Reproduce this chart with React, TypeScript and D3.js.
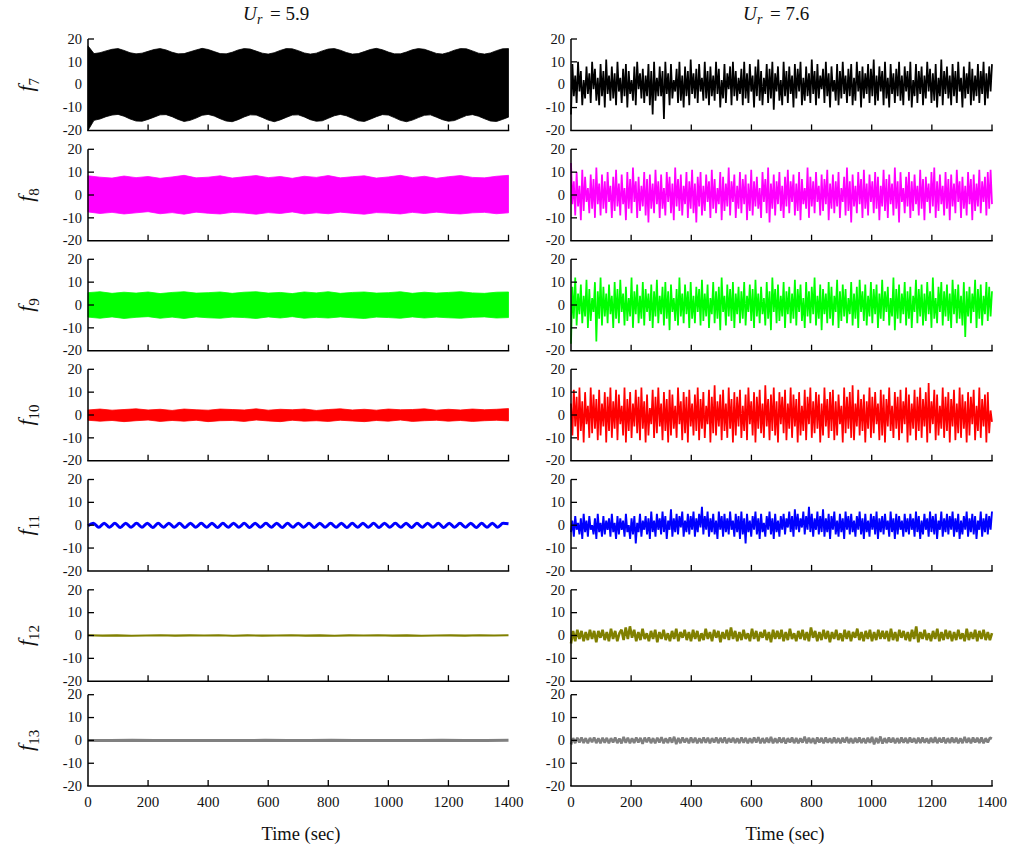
import React from 'react';
import * as d3 from 'd3';

// ---------- data ----------
const timeTicks = [0, 200, 400, 600, 800, 1000, 1200, 1400];
const yTicks = [-20, -10, 0, 10, 20];
const yTickLabels = ['-20', '-10', '0', '10', '20'];
const columnTitles = ['5.9', '7.6'];
const forceIndices = ['7', '8', '9', '10', '11', '12', '13'];
const seriesColors = ['#000000', '#ff00ff', '#00ff00', '#ff0000', '#0000ff', '#808000', '#808080'];

// Ur = 5.9 : envelopes of the dense oscillation
const left7Upper = [17, 13.6, 14, 14.8, 15.5, 15.8, 15, 14, 13.5, 13.8, 14.6, 15.4, 15.8, 15.2, 14.2, 13.5, 13.6, 14.4, 15.2, 15.9, 15.4, 14.5, 13.6, 13.5, 14.2, 15.2, 15.8, 15.6, 14.7, 13.8, 13.4, 14, 15, 15.8, 15.7, 14.9, 13.9, 13.4, 13.8, 14.8, 15.6, 15.8, 15.1, 14.1, 13.4, 13.6, 14.5, 15.4, 15.9, 15.3, 14.3, 13.5, 13.5, 14.3, 15.3, 15.8, 15.5, 14.6, 13.7, 13.4, 14.1, 15.1, 15.8, 15.7, 14.8, 13.8, 13.4, 13.9, 14.9, 15.7, 15.8];
const left7Lower = [-20, -15.6, -15, -14, -13.3, -13, -13.8, -15, -15.9, -16, -15.2, -14.2, -13.2, -13.1, -14, -15.2, -16.1, -15.6, -14.6, -13.4, -13, -13.7, -14.9, -15.9, -16.2, -15.3, -14.1, -13.2, -13.3, -14.3, -15.5, -16.2, -15.4, -14.3, -13.3, -13.2, -14.1, -15.3, -16, -15.8, -14.7, -13.6, -13, -13.6, -14.7, -15.8, -16.1, -15.1, -14, -13.1, -13.3, -14.4, -15.6, -16.2, -15.5, -14.4, -13.4, -13.2, -14.2, -15.3, -16, -15.7, -14.6, -13.5, -13.1, -13.8, -14.9, -15.9, -16.1, -15.2, -14.2];
const left8Upper = [8.4, 7.8, 7.4, 8.3, 7.6, 8.1, 7.3, 7.9, 8.6, 7.5, 7.8, 8.4, 7.4, 8, 8.5, 7.6, 8.1, 7.3, 8.2, 7.7, 8.5, 7.5, 8, 8.4, 7.4, 7.9, 8.6, 7.6, 8.2, 7.3, 8, 8.5, 7.7, 7.5, 8.2, 8.6];
const left8Lower = [-7.4, -8.1, -7.6, -8.3, -7.8, -7.3, -8.2, -7.7, -8.4, -7.5, -8, -8.3, -7.6, -7.9, -8.4, -7.7, -8.1, -7.4, -8.3, -7.8, -8.2, -7.5, -8, -8.4, -7.7, -7.9, -8.3, -7.6, -8.1, -7.5, -8, -8.3, -7.8, -7.6, -8.2, -7.8];
const left9Upper = [5.4, 5.8, 5.1, 5.6, 5.2, 5.7, 5, 5.5, 5.8, 5.2, 5.4, 5.7, 5.1, 5.6, 5.8, 5.2, 5.5, 5, 5.7, 5.3, 5.8, 5.1, 5.5, 5.7, 5.2, 5.4, 5.8, 5.1, 5.6, 5.2, 5.5, 5.8, 5.3, 5.1, 5.6, 5.7];
const left9Lower = [-5.3, -5.8, -5.2, -5.9, -5.4, -5.1, -5.8, -5.3, -5.9, -5.2, -5.6, -5.8, -5.3, -5.5, -5.9, -5.2, -5.7, -5.1, -5.8, -5.4, -5.7, -5.2, -5.6, -5.9, -5.3, -5.5, -5.8, -5.2, -5.7, -5.3, -5.6, -5.8, -5.4, -5.2, -5.7, -5.5];
const left10Upper = [2.2, 2.6, 2.1, 2.4, 2.7, 2.2, 2.5, 2, 2.6, 2.3, 2.1, 2.6, 2.4, 2.2, 2.7, 2.1, 2.5, 2.3, 2.6, 2, 2.4, 2.7, 2.2, 2.5, 2.1, 2.6, 2.3, 2.4, 2.7, 2.1, 2.5, 2.2, 2.6, 2.3, 2.5, 2.8];
const left10Lower = [-2.3, -2.7, -2.4, -2.9, -2.5, -2.2, -2.8, -2.4, -2.7, -2.3, -2.9, -2.5, -2.4, -2.8, -2.2, -2.6, -2.9, -2.3, -2.7, -2.5, -2.8, -2.3, -2.6, -2.9, -2.4, -2.7, -2.2, -2.8, -2.5, -2.3, -2.7, -2.4, -2.8, -2.5, -2.3, -2.6];
const left11Values = [-0.2, 0.9, -0.9, 0.9, -0.9, 0.8, -1, 0.9, -0.9, 0.8, -0.9, 0.9, -1, 0.8, -0.9, 0.9, -0.9, 0.8, -1, 0.9, -0.9, 0.8, -0.9, 0.9, -1, 0.8, -0.9, 0.9, -0.9, 0.8, -1, 0.9, -0.9, 0.8, -0.9, 0.9, -1, 0.8, -0.9, 0.9, -0.9, 0.8, -1, 0.9, -0.9, 0.8, -0.9, 0.9, -1, 0.8, -0.9, 0.9, -0.9, 0.8, -1, 0.9, -0.9, 0.8, -0.9, 0.9, -1, 0.8, -0.9, 0.9, -0.9, 0.8, -1, 0.9, -0.9, 0.8, -0.9, 0.9, -1, 0.8, -0.9, 0.9, -0.9, 0.8, 0.6];
const left12Values = [0.1, -0.05, 0.05, -0.1, 0, 0.1, -0.05, 0.05, 0, 0.1, -0.1, 0.05, -0.05, 0, 0.1, -0.05, 0.05, -0.1, 0.05, 0, 0.1, -0.05, 0.05, -0.1, 0, 0.05, -0.05, 0.1, 0, 0.1];
const left13Values = [0, 0, 0.05, 0, -0.05, 0, 0, -0.05, 0.05, 0, 0, 0.05, -0.05, 0, 0, -0.05, 0.05, 0, 0, 0.05];

// Ur = 7.6 : broadband responses, successive local maxima and minima
const right7Peaks = [9, 4, 10, 6, 2, 8, 5, 10, 7, 3, 9, 6, 11, 4, 8,
  5, 10, 3, 7, 9, 6, 2, 8, 10, 5, 7, 4, 9, 6, 10,
  3, 8, 6, 10, 5, 9, 2, 7, 10, 4, 8, 6, 11, 5, 7,
  9, 3, 10, 6, 8, 4, 10, 7, 2, 9, 5, 8, 10, 6, 3,
  7, 10, 5, 9, 4, 8, 11, 6, 3, 9, 7, 10, 5, 8, 2,
  10, 6, 8, 4, 9, 7, 10, 3, 8, 5, 11, 6, 9, 4, 7,
  10, 5, 8, 2, 9, 6, 10, 4, 7, 9, 3, 10, 6, 8, 5,
  9, 7, 11, 4, 8, 6, 10, 3, 9, 5, 7, 10, 4, 8, 6,
  10, 2, 9, 6, 8, 4, 10, 7, 5, 9, 3, 11, 6, 8, 4,
  9, 6, 10, 3, 8, 5, 10, 7, 4, 9, 6, 10, 5, 8, 9];
const right7Troughs = [-13, -5, -8, -3, -9, -6, -4, -8, -2, -7, -9, -5, -10, -4, -7,
  -6, -9, -3, -8, -5, -10, -4, -7, -9, -2, -6, -8, -5, -9, -13,
  -7, -5, -5, -15, -4, -9, -6, -3, -8, -7, -10, -5, -9, -4, -6,
  -8, -3, -7, -6, -9, -5, -7, -4, -10, -6, -8, -2, -9, -5, -7,
  -4, -9, -6, -8, -3, -10, -5, -7, -9, -4, -8, -6, -11, -3, -7,
  -9, -5, -8, -4, -10, -6, -3, -9, -7, -5, -8, -4, -9, -6, -2,
  -8, -5, -10, -3, -7, -9, -6, -4, -8, -5, -9, -7, -3, -10, -6,
  -4, -8, -5, -9, -7, -3, -9, -6, -10, -4, -8, -5, -7, -9, -3,
  -7, -10, -5, -8, -4, -9, -6, -3, -8, -7, -10, -5, -9, -4, -6,
  -9, -5, -8, -3, -10, -6, -4, -9, -7, -5, -8, -4, -9, -6, -3];
const right8Peaks = [14, 6, 10, 4, 11, 8, 3, 9, 7, 12, 5, 9, 6, 10, 4,
  8, 11, 5, 9, 3, 10, 7, 12, 6, 8, 4, 10, 7, 9, 5,
  11, 6, 9, 3, 10, 8, 5, 12, 7, 9, 4, 10, 6, 11, 5,
  8, 10, 4, 9, 6, 11, 7, 3, 10, 8, 5, 12, 6, 9, 4,
  10, 7, 9, 5, 11, 6, 8, 3, 10, 7, 12, 5, 9, 6, 10,
  4, 8, 11, 6, 9, 5, 10, 7, 3, 12, 8, 6, 10, 4, 9,
  7, 11, 5, 9, 6, 10, 3, 8, 12, 6, 9, 4, 10, 7, 11,
  5, 9, 6, 10, 8, 4, 11, 7, 9, 5, 12, 6, 10, 3, 8,
  10, 6, 9, 4, 11, 7, 8, 5, 10, 12, 6, 9, 4, 10, 7,
  9, 5, 11, 6, 8, 4, 10, 7, 9, 5, 11, 6, 8, 10, 11];
const right8Troughs = [-4, -9, -5, -11, -7, -3, -8, -6, -10, -4, -9, -6, -8, -3, -10,
  -7, -5, -9, -4, -11, -6, -8, -3, -10, -7, -5, -9, -12, -6, -8,
  -4, -10, -6, -9, -3, -8, -11, -5, -7, -9, -4, -10, -6, -8, -12,
  -5, -9, -7, -3, -10, -6, -8, -4, -11, -7, -5, -9, -3, -10, -6,
  -8, -4, -11, -7, -9, -5, -6, -10, -3, -8, -12, -6, -9, -4, -7,
  -10, -5, -8, -3, -9, -7, -11, -4, -6, -10, -5, -8, -3, -9, -7,
  -4, -11, -6, -8, -5, -10, -3, -9, -7, -12, -5, -8, -4, -10, -6,
  -9, -3, -8, -6, -11, -5, -7, -10, -4, -9, -6, -12, -3, -8, -5,
  -10, -7, -4, -9, -6, -11, -3, -8, -5, -10, -7, -4, -9, -6, -11,
  -5, -8, -3, -10, -6, -9, -4, -11, -7, -5, -8, -3, -9, -6, -4];
const right9Peaks = [8, 12, 5, 9, 4, 11, 7, 3, 10, 6, 12, 8, 5, 9, 4,
  10, 7, 11, 5, 8, 3, 12, 6, 9, 4, 10, 7, 5, 9, 6,
  11, 4, 8, 10, 6, 9, 3, 7, 12, 5, 9, 6, 10, 4, 8,
  7, 11, 5, 9, 3, 10, 6, 8, 12, 4, 9, 7, 10, 5, 8,
  6, 10, 4, 9, 7, 11, 5, 8, 3, 10, 6, 12, 7, 9, 4,
  10, 6, 8, 5, 11, 7, 9, 3, 10, 6, 8, 12, 4, 9, 7,
  5, 10, 8, 4, 11, 6, 9, 7, 3, 10, 5, 8, 11, 6, 9,
  4, 10, 7, 9, 5, 11, 6, 8, 3, 12, 7, 9, 5, 10, 6,
  8, 4, 11, 7, 9, 5, 10, 6, 12, 3, 8, 10, 6, 9, 5,
  11, 7, 9, 4, 10, 6, 8, 5, 11, 7, 9, 4, 10, 8, 6];
const right9Troughs = [-17, -6, -9, -4, -8, -5, -10, -7, -3, -16, -6, -9, -5, -8, -4,
  -10, -6, -8, -3, -9, -7, -5, -10, -4, -8, -6, -9, -3, -7, -10,
  -5, -8, -4, -9, -6, -11, -3, -7, -9, -5, -8, -4, -10, -6, -8,
  -3, -9, -7, -5, -10, -4, -8, -6, -11, -3, -9, -5, -7, -10, -4,
  -8, -6, -9, -3, -7, -10, -5, -8, -4, -9, -6, -11, -3, -8, -7,
  -5, -10, -4, -8, -6, -9, -3, -7, -10, -5, -8, -4, -9, -6, -11,
  -4, -8, -6, -9, -3, -10, -7, -5, -8, -4, -9, -6, -10, -3, -7,
  -9, -5, -8, -4, -10, -6, -7, -3, -9, -5, -11, -6, -8, -4, -9,
  -6, -10, -3, -8, -5, -9, -7, -4, -10, -6, -8, -3, -9, -5, -7,
  -10, -4, -8, -6, -9, -14, -5, -8, -3, -10, -6, -9, -4, -7, -5];
const right10Peaks = [5, 11, 8, 12, 6, 10, 4, 12, 9, 7, 11, 5, 10, 8, 12,
  6, 11, 9, 4, 12, 7, 10, 5, 11, 8, 12, 6, 9, 3, 11,
  8, 12, 5, 10, 7, 11, 9, 4, 12, 6, 10, 8, 11, 5, 9,
  12, 7, 10, 4, 11, 8, 13, 6, 9, 11, 5, 12, 7, 10, 8,
  11, 4, 9, 12, 6, 10, 8, 11, 5, 13, 7, 9, 12, 6, 10,
  8, 11, 5, 12, 9, 7, 10, 4, 11, 8, 12, 6, 10, 9, 5,
  12, 7, 10, 11, 6, 9, 4, 12, 8, 10, 13, 5, 11, 7, 9,
  6, 12, 8, 10, 5, 11, 9, 7, 12, 4, 10, 8, 11, 6, 12,
  9, 5, 11, 8, 12, 7, 10, 14, 6, 11, 9, 4, 12, 8, 10,
  7, 11, 5, 12, 9, 6, 10, 8, 11, 4, 12, 7, 9, 10, 2];
const right10Troughs = [-9, -5, -11, -7, -12, -4, -10, -8, -6, -11, -9, -5, -12, -7, -10,
  -6, -11, -4, -9, -12, -7, -10, -5, -8, -11, -6, -12, -9, -4, -10,
  -8, -5, -11, -7, -12, -9, -6, -10, -4, -11, -8, -12, -5, -9, -7,
  -11, -6, -10, -4, -12, -8, -9, -5, -11, -7, -10, -6, -12, -9, -5,
  -10, -7, -11, -4, -9, -12, -6, -8, -10, -5, -11, -7, -9, -12, -4,
  -8, -11, -6, -10, -5, -12, -9, -7, -11, -4, -10, -8, -6, -12, -9,
  -5, -10, -7, -11, -9, -4, -12, -8, -6, -10, -11, -5, -9, -7, -12,
  -6, -10, -8, -4, -11, -9, -12, -5, -7, -10, -6, -11, -8, -4, -12,
  -9, -6, -11, -7, -10, -5, -12, -8, -4, -11, -9, -6, -10, -7, -12,
  -5, -11, -8, -10, -6, -12, -9, -4, -11, -7, -10, -5, -12, -8, -3];
const right11Peaks = [2, 4, 1, 3, 5, 2, 4, 0, 3, 5, 1, 4, 2, 3, 5,
  1, 4, 3, 2, 5, 0, 3, 4, 1, 5, 2, 4, 3, 6, 2,
  5, 3, 6, 4, 2, 7, 3, 5, 4, 6, 2, 5, 4, 6, 3,
  5, 8, 4, 6, 3, 5, 2, 6, 4, 5, 3, 6, 2, 5, 4,
  6, 3, 5, 2, 4, 6, 3, 5, 1, 4, 6, 3, 5, 2, 4,
  5, 3, 6, 4, 7, 5, 3, 6, 4, 8, 5, 3, 6, 4, 7,
  3, 5, 4, 6, 2, 5, 3, 6, 4, 5, 2, 4, 6, 3, 5,
  2, 5, 4, 6, 3, 4, 5, 2, 6, 3, 5, 4, 2, 5, 3,
  5, 3, 6, 4, 2, 5, 3, 6, 4, 5, 2, 6, 3, 5, 4,
  6, 3, 5, 2, 4, 6, 3, 5, 4, 2, 6, 3, 5, 4, 6];
const right11Troughs = [-3, -5, -2, -4, -6, -3, -5, -2, -4, -6, -3, -5, -4, -2, -5,
  -3, -6, -4, -2, -5, -3, -6, -4, -8, -3, -5, -2, -4, -6, -3,
  -5, -2, -4, -3, -6, -2, -5, -3, -4, -1, -5, -3, -4, -2, -5,
  -3, -1, -4, -2, -5, -3, -4, -6, -2, -5, -3, -4, -2, -5, -3,
  -6, -4, -8, -3, -5, -2, -4, -6, -3, -5, -2, -4, -6, -3, -5,
  -2, -4, -1, -3, -5, -2, -3, -1, -4, -2, -3, -5, -2, -4, -3,
  -5, -3, -6, -2, -4, -5, -3, -6, -2, -4, -3, -5, -2, -4, -6,
  -3, -5, -2, -4, -6, -3, -4, -2, -5, -3, -6, -4, -2, -5, -3,
  -4, -2, -5, -3, -6, -4, -2, -5, -3, -4, -6, -2, -5, -3, -4,
  -2, -5, -3, -6, -4, -2, -5, -3, -4, -6, -2, -5, -3, -4, -2];
const right12Values = [-3.5, 2, -2.5, 2.5, -1.5, 2, -2.5, 1.5, -2, 2.5, -1.5, 2, -3, 2, -1, 2.5, -2, 1.5, -2.5, 3,
  -1.5, 2, -2.5, 1, 2.5, -2, 3.5, -1.5, 4, -1, 2.5, -2.5, 1.5, -2, 3, -1.5, 1, -2.5, 2, -1.5,
  2.5, -3, 1.5, -1.5, 2.5, -2, 1, -2.5, 2, -1.5, 3, -2.5, 1.5, -1, 2.5, -2, 1.5, -2.5, 2.5, -1.5,
  2, -2.5, 1, -2, 3, -1.5, 1.5, -2.5, 2.5, -1, 2, -3, 1.5, -1.5, 2.5, -2, 3.5, -1.5, 2, -2.5,
  1.5, -2, 2.5, -1.5, 1, -2.5, 3, -1.5, 2, -2.5, 1.5, -1, 2.5, -2, 1.5, -3, 2.5, -1.5, 2, -1.5,
  2.5, -2.5, 1.5, -2, 3, -1.5, 1, -2.5, 2, -1.5, 2.5, -2, 1.5, -2.5, 3.5, -1, 2, -2.5, 1.5, -2,
  2.5, -1.5, 2, -3, 1.5, -1.5, 2.5, -2, 1, -2.5, 2.5, -1.5, 2, -2.5, 1.5, -1, 3, -2, 1.5, -2.5,
  2, -1.5, 2.5, -2.5, 1.5, -2, 2.5, -1.5, 2, -1.5, 2, -2.5, 3, -2, 1.5, -2.5, 2.5, -1, 2, -2,
  1.5, -2.5, 2.5, -1.5, 4, -3, 1.5, -1.5, 2.5, -2, 1, -2.5, 2, -1.5, 3, -2.5, 1.5, -2, 2.5, -1.5,
  2, -2.5, 1.5, -2, 2.5, -1.5, 1, -2.5, 3, -2, 1.5, -1.5, 2.5, -2.5, 2, -1.5, 2.5, -2, 1.5, -2, 1];
const right13Values = [-1.8, 1, -1.2, 1.2, -0.9, 1.3, -1.1, 1, -1.3, 1.1, -0.8, 1.3, -1.2, 0.9, -1.3, 1.2, -1, 1.1, -1.3, 1,
  -0.9, 1.3, -1.2, 0.8, -1.3, 1.5, -1, 1.2, -1.3, 0.9, -1.1, 1.3, -0.9, 1.1, -1.5, 1.2, -0.8, 1.3, -1.2, 1,
  -1.3, 1.2, -0.9, 1.4, -1.3, 0.9, -1.1, 1.3, -1, 1.6, -1.6, 1.1, -1.2, 1.3, -0.9, 1, -1.3, 1.3, -1, 1.2,
  -1.3, 0.9, -1.1, 1.3, -1, 1.2, -1.3, 1, -0.9, 1.3, -1.2, 1.1, -1, 1.3, -1.3, 1, -0.9, 1.2, -1.1, 0.9,
  -1.2, 1.3, -1, 1.1, -1.3, 0.9, -1.1, 1.3, -0.9, 1.4, -1.3, 1, -1.2, 1.2, -1, 1.5, -1.3, 0.9, -1.1, 1.3,
  -1, 1.2, -1.4, 1, -0.9, 1.3, -1.2, 1.1, -1.3, 0.9, -1, 1.6, -1.3, 1.2, -1.1, 1, -1.5, 1.3, -0.9, 1.1,
  -1.3, 1.3, -1, 0.9, -1.2, 1.3, -1.1, 1, -1.3, 1.2, -0.9, 1.4, -1.2, 1, -1.3, 1.1, -1, 1.3, -1.1, 0.9,
  -1.3, 1.2, -1, 1.5, -1.7, 1.1, -1.2, 1.7, -1.4, 1, -1.1, 1.3, -0.9, 1.2, -1.3, 1, -1.2, 1.3, -1, 1.1,
  -1.2, 1.3, -0.9, 1, -1.3, 1.2, -1.1, 1.3, -1, 0.9, -1.3, 1.2, -1, 1.4, -1.2, 1.1, -0.9, 1.3, -1.3, 1,
  -1.1, 1.3, -1, 1.2, -1.3, 0.9, -1.2, 1.5, -1, 1.1, -1.3, 1.3, -0.9, 1.2, -1.1, 1.3, -1.3, 1, -0.9, 1.2, 0.8];

// ---------- layout ----------
const W = 1010;
const H = 850;
const colX: [number, number][] = [[88, 508.5], [571, 992]];
const rowTop = [39, 149.3, 259.3, 369.3, 479.5, 589.8, 694.7];
const panelH = 91.4;
const FONT = "'Liberation Serif', 'DejaVu Serif', serif";

// put successive extrema back into time order
function alternate(first: number[], second: number[]): number[] {
  const out: number[] = [];
  first.forEach((v, i) => {
    out.push(v);
    if (i < second.length) out.push(second[i]);
  });
  return out;
}

type Band = { kind: 'band'; upper: number[]; lower: number[] };
type Line = { kind: 'line'; values: number[]; width: number; smooth?: boolean };
type Series = Band | Line;

const leftSeries: Series[] = [
  { kind: 'band', upper: left7Upper, lower: left7Lower },
  { kind: 'band', upper: left8Upper, lower: left8Lower },
  { kind: 'band', upper: left9Upper, lower: left9Lower },
  { kind: 'band', upper: left10Upper, lower: left10Lower },
  { kind: 'line', values: left11Values, width: 3, smooth: true },
  { kind: 'line', values: left12Values, width: 2.2 },
  { kind: 'line', values: left13Values, width: 3 },
];
const rightSeries: Series[] = [
  { kind: 'line', values: alternate(right7Troughs, right7Peaks), width: 1.75 },
  { kind: 'line', values: alternate(right8Peaks, right8Troughs), width: 1.75 },
  { kind: 'line', values: alternate(right9Troughs, right9Peaks), width: 1.75 },
  { kind: 'line', values: alternate(right10Peaks, right10Troughs), width: 1.75 },
  { kind: 'line', values: alternate(right11Troughs, right11Peaks), width: 1.9 },
  { kind: 'line', values: right12Values, width: 2.6 },
  { kind: 'line', values: right13Values, width: 2.6 },
];

const textStyle: React.CSSProperties = { fontFamily: FONT };

function Panel({ col, row, series }: { col: number; row: number; series: Series }) {
  const [x0, x1] = colX[col];
  const top = rowTop[row];
  const x = d3.scaleLinear().domain([0, 1400]).range([x0, x1]);
  const y = d3.scaleLinear().domain([-20, 20]).range([top + panelH, top]);
  const color = seriesColors[row];
  const tAt = (n: number) => (i: number) => (i * 1400) / (n - 1);

  let mark: React.ReactNode = null;
  if (series.kind === 'band') {
    const n = series.upper.length;
    const t = tAt(n);
    const area = d3
      .area<number>()
      .x((_, i) => x(t(i)))
      .y1((d) => y(d))
      .y0((_, i) => y(series.lower[i]));
    mark = <path d={area(series.upper) || ''} fill={color} stroke={color} strokeWidth={0.8} />;
  } else {
    const n = series.values.length;
    const t = tAt(n);
    const line = d3
      .line<number>()
      .x((_, i) => x(t(i)))
      .y((d) => y(d))
      .curve(series.smooth ? d3.curveMonotoneX : d3.curveLinear);
    mark = (
      <path
        d={line(series.values) || ''}
        fill="none"
        stroke={color}
        strokeWidth={series.width}
        strokeLinejoin="bevel"
      />
    );
  }

  return (
    <g>
      {mark}
      <line x1={x0} x2={x0} y1={y(20)} y2={y(-20)} stroke="#000" strokeWidth={1.5} />
      <line x1={x0 - 0.75} x2={x1 + 0.75} y1={y(-20)} y2={y(-20)} stroke="#000" strokeWidth={1.5} />
      {yTicks.map((v, i) => (
        <g key={'y' + v}>
          {v !== -20 && <line x1={x0} x2={x0 + 6} y1={y(v)} y2={y(v)} stroke="#000" strokeWidth={1.3} />}
          <text x={x0 - 6} y={y(v)} dy="0.33em" textAnchor="end" style={textStyle} fontSize={14.5} fill="#111">
            {yTickLabels[i]}
          </text>
        </g>
      ))}
      {timeTicks.map((v) =>
        v === 0 ? null : (
          <line key={'x' + v} x1={x(v)} x2={x(v)} y1={y(-20)} y2={y(-20) - 6} stroke="#000" strokeWidth={1.3} />
        ),
      )}
      {row === rowTop.length - 1 &&
        timeTicks.map((v) => (
          <text key={'xl' + v} x={x(v)} y={807} textAnchor="middle" style={textStyle} fontSize={15} fill="#111">
            {v}
          </text>
        ))}
    </g>
  );
}

export default function App() {
  return (
    <svg
      width={W}
      height={H}
      viewBox={`0 0 ${W} ${H}`}
      style={{ position: 'absolute', left: 0, top: 0, background: '#fff' }}
    >
      <rect x={0} y={0} width={W} height={H} fill="#fff" />
      {columnTitles.map((v, c) => {
        const sx = c === 0 ? 243 : 743;
        return (
          <g key={'title' + c} style={textStyle} fill="#111">
            <text x={sx} y={20} fontSize={19} fontStyle="italic">U</text>
            <text x={sx + 14} y={24} fontSize={14} fontStyle="italic">r</text>
            <text x={sx + 27} y={20} fontSize={19}>{'= ' + v}</text>
          </g>
        );
      })}
      {forceIndices.map((k, r) => {
        const cy = rowTop[r] + panelH / 2;
        return (
          <text
            key={'f' + k}
            transform={`translate(33, ${cy}) rotate(-90)`}
            textAnchor="middle"
            style={textStyle}
            fontSize={22}
            fill="#111"
          >
            <tspan fontStyle="italic">f</tspan>
            <tspan fontSize={15} dy={6}>
              {k}
            </tspan>
          </text>
        );
      })}
      {leftSeries.map((s, r) => (
        <Panel key={'L' + r} col={0} row={r} series={s} />
      ))}
      {rightSeries.map((s, r) => (
        <Panel key={'R' + r} col={1} row={r} series={s} />
      ))}
      {colX.map((_, c) => (
        <text
          key={'xt' + c}
          x={c === 0 ? 301 : 785}
          y={840}
          textAnchor="middle"
          style={textStyle}
          fontSize={18.5}
          fill="#111"
        >
          Time (sec)
        </text>
      ))}
    </svg>
  );
}
